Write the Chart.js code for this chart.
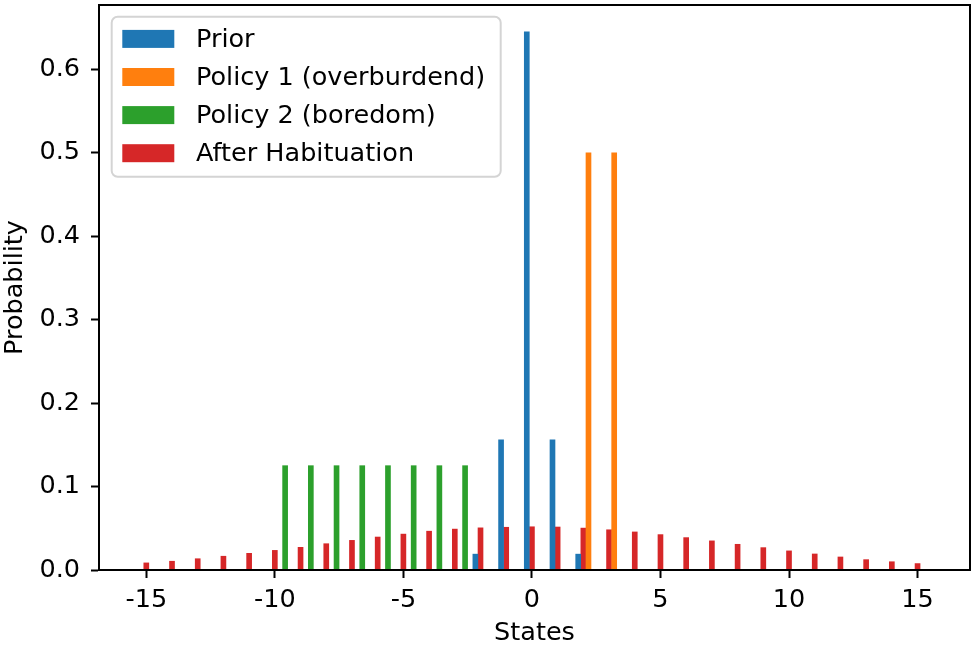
<!DOCTYPE html>
<html>
<head>
<meta charset="utf-8">
<script src="https://cdn.jsdelivr.net/npm/chart.js@4.4.1/dist/chart.umd.min.js"></script>
<style>
  html, body { margin: 0; padding: 0; background: #ffffff; }
  #wrap { width: 975px; height: 653px; }
</style>
</head>
<body>
<div id="wrap"><canvas id="myChart" width="975" height="653"></canvas></div>
<script>
// States on the x axis (integer positions of the bins)
const states = [-15, -14, -13, -12, -11, -10, -9, -8, -7, -6, -5, -4, -3, -2, -1, 0,
  1, 2, 3, 4, 5, 6, 7, 8, 9, 10, 11, 12, 13, 14, 15];
const afterHabituation = [0.0085, 0.0105, 0.0135, 0.0165, 0.0200, 0.0235, 0.0272, 0.0315,
  0.0355, 0.0395, 0.0430, 0.0465, 0.0490, 0.0505, 0.0512, 0.0518, 0.0515, 0.0502, 0.0482,
  0.0456, 0.0424, 0.0388, 0.0349, 0.0308, 0.0268, 0.0229, 0.0192, 0.0156, 0.0124, 0.0099, 0.0077];

const priorStates = [-2, -1, 0, 1, 2];
const prior = [0.019, 0.156, 0.645, 0.156, 0.019];

const policy1States = [2, 3];
const policy1 = [0.5, 0.5];

const policy2States = [-10, -9, -8, -7, -6, -5, -4, -3];
const policy2 = [0.125, 0.125, 0.125, 0.125, 0.125, 0.125, 0.125, 0.125];

const yTicks = [0.0, 0.1, 0.2, 0.3, 0.4, 0.5, 0.6];
const xTicks = [-15, -10, -5, 0, 5, 10, 15];

const FONT = "'DejaVu Sans', sans-serif";
const FS = 25.5;

Chart.defaults.font.family = FONT;
Chart.defaults.font.size = FS;
Chart.defaults.color = '#000000';

// bars sit side by side, 0.2 wide, shifted from the state
function points(xs, ys, shift) {
  return xs.map((s, i) => ({ x: s + shift, y: ys[i] }));
}

const frame = {
  id: 'frame',
  afterDatasetsDraw(chart) {
    const a = chart.chartArea, ctx = chart.ctx;
    ctx.save();
    ctx.strokeStyle = '#000';
    ctx.lineWidth = 2;
    ctx.strokeRect(a.left, a.top, a.right - a.left, a.bottom - a.top);
    ctx.restore();
  }
};

const boxLegend = {
  id: 'boxLegend',
  afterDraw(chart) {
    const a = chart.chartArea, ctx = chart.ctx;
    const x0 = a.left + 12.7, y0 = a.top + 11.7, w = 389, h = 160, r = 6;
    ctx.save();
    ctx.beginPath();
    ctx.moveTo(x0 + r, y0);
    ctx.arcTo(x0 + w, y0, x0 + w, y0 + h, r);
    ctx.arcTo(x0 + w, y0 + h, x0, y0 + h, r);
    ctx.arcTo(x0, y0 + h, x0, y0, r);
    ctx.arcTo(x0, y0, x0 + w, y0, r);
    ctx.closePath();
    ctx.fillStyle = 'rgba(255,255,255,0.8)';
    ctx.fill();
    ctx.strokeStyle = '#d4d4d4';
    ctx.lineWidth = 2;
    ctx.stroke();
    ctx.font = FS + 'px ' + FONT;
    ctx.textBaseline = 'middle';
    ctx.textAlign = 'left';
    chart.data.datasets.forEach((ds, i) => {
      const cy = y0 + 22.2 + i * 38.1;
      ctx.fillStyle = ds.backgroundColor;
      ctx.fillRect(x0 + 10.6, cy - 9, 52, 18);
      ctx.fillStyle = '#000';
      ctx.fillText(ds.label, x0 + 84.3, cy + 1);
    });
    ctx.restore();
  }
};

const ctx = document.getElementById('myChart').getContext('2d');
const myChart = new Chart(ctx, {
  type: 'bar',
  data: {
    datasets: [
      { label: 'Prior', data: points(priorStates, prior, -0.2), backgroundColor: '#1f77b4' },
      { label: 'Policy 1 (overburdend)', data: points(policy1States, policy1, 0.2), backgroundColor: '#ff7f0e' },
      { label: 'Policy 2 (boredom)', data: points(policy2States, policy2, 0.4), backgroundColor: '#2ca02c' },
      { label: 'After Habituation', data: points(states, afterHabituation, 0), backgroundColor: '#d62728' }
    ]
  },
  options: {
    responsive: false,
    animation: false,
    devicePixelRatio: 1,
    layout: { padding: { top: 5, right: 5, left: 0, bottom: 0 } },
    datasets: { bar: { grouped: false, barThickness: 5, borderWidth: 0 } },
    plugins: { legend: { display: false }, tooltip: { enabled: false } },
    scales: {
      x: {
        type: 'linear',
        min: -16.84,
        max: 17.04,
        offset: false,
        border: { display: true, color: '#000', width: 2 },
        grid: { display: true, offset: false, drawOnChartArea: false, drawTicks: true, tickLength: 8, tickWidth: 2, color: '#000', tickColor: '#000' },
        afterBuildTicks: s => { s.ticks = xTicks.map(v => ({ value: v })); },
        ticks: { padding: 7, maxRotation: 0, autoSkip: false, color: '#000', callback: v => String(v) },
        title: { display: true, text: 'States', color: '#000', padding: { top: 0, bottom: 4 } },
        afterFit: s => { s.height = 83; s.paddingLeft = 0; s.paddingRight = 0; }
      },
      y: {
        type: 'linear',
        min: 0,
        max: 0.677,
        border: { display: true, color: '#000', width: 2 },
        grid: { display: true, offset: false, drawOnChartArea: false, drawTicks: true, tickLength: 8, tickWidth: 2, color: '#000', tickColor: '#000' },
        afterBuildTicks: s => { s.ticks = yTicks.map(v => ({ value: v })); },
        ticks: { padding: 11, color: '#000', callback: v => v.toFixed(1) },
        title: { display: true, text: 'Probability', color: '#000', padding: { top: 0, bottom: 0 } },
        afterFit: s => { s.width = 99; s.paddingTop = 0; s.paddingBottom = 0; }
      }
    }
  },
  plugins: [frame, boxLegend]
});
</script>
</body>
</html>
